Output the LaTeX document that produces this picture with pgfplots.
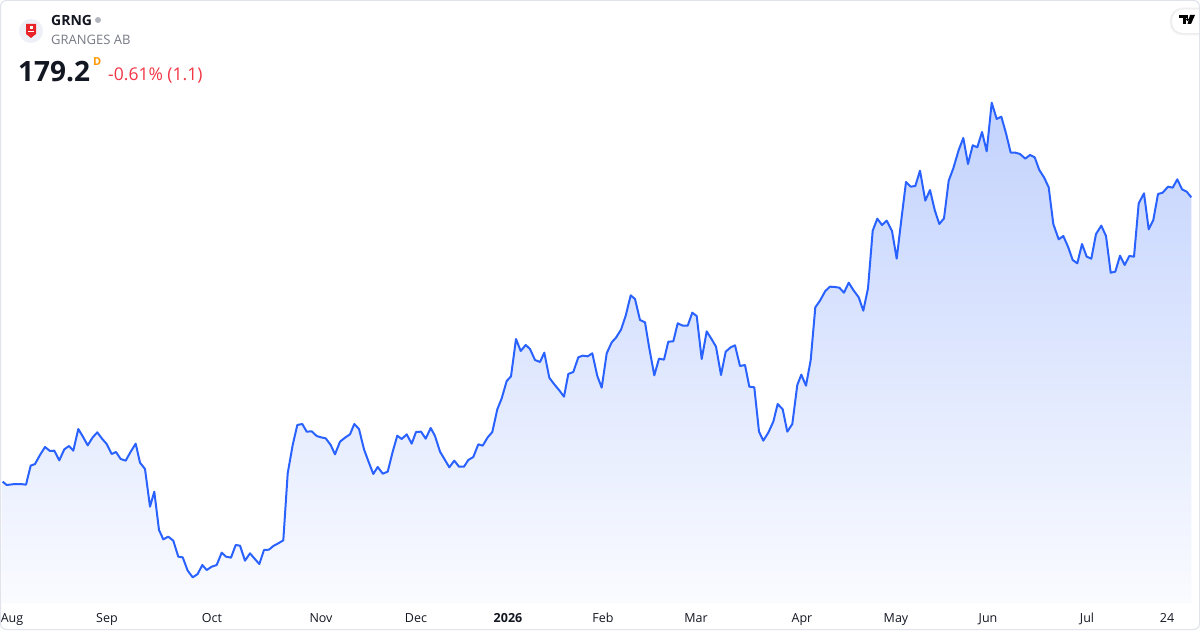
\documentclass[border=0pt]{standalone}
\usepackage{pgfplots}
\pgfplotsset{compat=1.18}
\usepackage{pgfplotstable}
\usepackage{fontspec}
\setmainfont{Open Sans}
\definecolor{tvblue}{HTML}{2962FF}
\definecolor{tvtxt}{HTML}{131722}
\definecolor{tvgray}{HTML}{787B86}
\definecolor{tvred}{HTML}{F23645}
\definecolor{tvorange}{HTML}{FF9800}
\definecolor{filltop}{HTML}{C2D2FD}
\definecolor{fillbot}{HTML}{FAFBFF}
\definecolor{bordergray}{HTML}{E0E3EB}
\definecolor{logobg}{HTML}{EEF0F7}
\definecolor{logored}{HTML}{E8232A}
\definecolor{dotgray}{HTML}{B2B5BE}

\pgfplotstableread{
x price
2.7 136.55
6.7 136.05
15 136.2
20.7 136.2
26 136.1
30.7 138.95
35 139.2
40 140.55
45 141.75
50 141.15
54.3 141.2
59.3 139.75
64.3 141.4
69 141.9
73.3 141.2
78.3 144.45
83.3 143.2
87.7 142.0
92.7 143.2
97.3 143.95
102.3 142.95
106.7 142.2
111.7 140.7
116 141.0
120.7 139.95
125.7 139.7
130.7 141.05
135.7 142.25
140 139.4
145 138.45
150 132.8
154.3 135.05
159 129.3
163.3 127.9
168.3 128.3
173.3 127.7
178.3 125.3
182.7 125.2
187.7 123.2
192.7 122.2
197.7 122.7
202.3 124.05
206.7 123.3
211.7 123.8
216.7 124.05
221.7 125.9
226 125.3
231 125.15
235.7 127.05
240 126.95
245 124.7
250 125.8
254.3 125.05
259.3 124.2
264 126.3
269 126.35
273.3 126.9
278.3 127.3
283.3 127.75
287.7 137.8
292.7 142.05
297.3 145.05
302.3 145.2
306.7 144.05
311.7 144.1
316.7 143.4
321 143.2
325.7 143.05
330.7 142.05
335 140.65
340 142.55
345 143.15
350 143.65
354.3 145.2
359 144.45
364 141.4
368.3 139.65
373.3 137.7
377.7 138.75
382.7 137.75
387.7 138.05
392.7 141.05
397.3 143.45
401.7 142.95
406.7 143.65
411.7 142.25
416 144.0
421 144.05
425.7 143.0
430.7 144.6
435 143.4
440 141.05
445 139.8
449.3 138.7
454.3 139.7
459 138.8
464 138.8
468.3 139.8
473.3 140.25
478.3 142.15
482.7 141.95
487.7 143.2
492.3 144.0
497.3 147.4
501.7 149.05
506.7 151.65
511 152.35
516 157.95
520.7 156.15
525.7 157.05
530 156.45
535 154.8
540 154.5
544.3 155.9
549.3 152.15
554.3 151.15
559 150.3
564 149.3
568.3 152.7
573.3 153.0
578.3 155.2
582.7 155.45
587.7 155.35
592.3 155.8
597.3 152.4
601.7 150.65
606.7 155.8
611.7 157.45
616 158.15
621 159.35
625.7 161.45
630.7 164.5
635 163.95
640 160.8
645 160.45
649.3 156.55
654.3 152.5
659 155.0
664 154.85
668.3 157.55
673.3 157.6
677.7 160.3
682.7 159.95
687.7 159.95
692.3 161.9
696.7 161.4
701.7 154.95
706.7 159.1
711.7 157.9
716 156.8
721 152.55
725.7 156.05
730.7 156.7
735 157.0
740 153.9
745 154.05
749.3 150.8
754.3 150.7
759 144.05
763.3 142.7
768.3 143.9
773.3 145.55
777.7 148.2
782.7 147.4
787.3 144.05
792.3 145.2
797.3 151.05
801.3 152.6
806 150.95
810.7 154.8
815.3 162.7
820 163.7
825.3 165.15
830 165.8
834.7 165.75
839.3 165.65
844 164.9
848.7 166.4
853.3 165.3
858.7 164.2
863.3 162.2
868 165.55
872.7 174.2
877.3 176.0
882 175.05
886.7 175.7
892 174.15
896.7 170.0
901.3 175.8
906 181.5
910.7 180.8
915.3 180.9
920 183.2
925.3 178.7
930 180.3
934.7 177.3
939.3 175.2
944 176.05
948.7 181.7
953.3 183.55
958.7 186.3
963.3 188.1
968 184.2
972.7 187.0
977.3 186.7
982 189.0
986.7 186.1
991.7 193.4
996.7 190.95
1001.3 191.3
1006 188.8
1010.7 185.9
1015.3 185.9
1020 185.7
1025.3 185.0
1030 185.55
1034.7 185.2
1039.3 183.3
1044 182.2
1048.7 180.7
1053.3 175.2
1058.7 172.9
1063.3 173.4
1068 171.8
1072.7 169.8
1077.3 169.3
1082 172.2
1086.7 170.3
1091.3 170.0
1096 173.7
1101.3 174.95
1106 173.4
1110.7 167.9
1115.3 168.05
1120 170.45
1124.7 169.05
1129.3 170.4
1134 170.3
1138.7 178.3
1144 179.8
1148.7 174.4
1153.3 175.8
1158 179.7
1162.7 179.9
1168 180.8
1172.7 180.65
1177.3 181.9
1182 180.4
1186.7 180.05
1191.3 179.2
}\pricedata

% polygon for the area: baseline corner, the series, baseline corner
\pgfplotstableread{
x price
2.7 118.35
}\filldata
\pgfplotstablevertcat{\filldata}{\pricedata}
\pgfplotstableread{
x price
1191.3 118.35
}\fillend
\pgfplotstablevertcat{\filldata}{\fillend}

\begin{document}
\begin{tikzpicture}
\useasboundingbox (0,0) rectangle (1200pt,630pt);
\fill[white] (0,0) rectangle (1200pt,630pt);
\begin{axis}[
  at={(0pt,27pt)}, anchor=south west,
  scale only axis, width=1200pt, height=603pt,
  xmin=0, xmax=1200, ymin=118.35, ymax=208.8,
  axis line style={draw=none},
  major tick length=0pt,
  ytick=\empty,
  xtick={12,107,212,321,416,508,603,696,802,896,988,1087,1167},
  xticklabels={Aug,Sep,Oct,Nov,Dec,\textbf{2026},Feb,Mar,Apr,May,Jun,Jul,24},
  xticklabel style={font=\fontsize{12.5}{14}\selectfont, text=tvtxt, anchor=base, yshift=-19pt, inner sep=0pt},
]
\addplot[draw=none, top color=filltop, bottom color=fillbot] table[x=x,y=price] {\filldata} -- cycle;
\addplot[tvblue, line width=2pt, line join=round] table[x=x,y=price] {\pricedata};
\end{axis}
\begin{scope}[x=1pt,y=-1pt,yshift=630pt]
  % logo
  \fill[logobg] (31,31) circle (12);
  \fill[logored] (26,24) -- (36,24) -- (36,34) -- (31,38) -- (26,34) -- cycle;
  \fill[white] (29.5,26) rectangle (32.5,29);
  \fill[white] (28,31) rectangle (34,32);
  \node[anchor=base west, inner sep=0pt, font=\bfseries\fontsize{14}{16}\selectfont, text=tvtxt] at (51,26) {GRNG};
  \fill[dotgray] (98,20) circle (3);
  \node[anchor=base west, inner sep=0pt, font=\fontsize{13}{15}\selectfont, text=tvgray] at (51,45) {GRANGES AB};
  \node[anchor=base west, inner sep=0pt, font=\bfseries\fontsize{28}{32}\selectfont, text=tvtxt] at (18,82) {179.2};
  \node[anchor=base west, inner sep=0pt, font=\bfseries\fontsize{11}{13}\selectfont, text=tvorange] at (93,66) {D};
  \node[anchor=base west, inner sep=0pt, font=\fontsize{17.5}{20}\selectfont, text=tvred] at (108,81) {-0.61\% (1.1)};
  % tv logo pill with soft shadow
  \fill[black!4, rounded corners=13] (1169.5,7.5) rectangle (1216,35.5);
  \fill[black!7, rounded corners=12] (1170.5,8.5) rectangle (1216,34.5);
  \fill[white, rounded corners=11] (1172,9.5) rectangle (1215,33);
  \fill[black] (1179,15) rectangle (1188,18);
  \fill[black] (1183,15) rectangle (1186,24);
  \fill[black] (1187.5,19.5) circle (1.6);
  \fill[black] (1190,15) -- (1195,15) -- (1191,24) -- (1187.5,24) -- cycle;
  % border
  \draw[bordergray, line width=1pt, rounded corners=6] (0.5,0.5) rectangle (1199.5,629.5);
\end{scope}
\end{tikzpicture}
\end{document}
